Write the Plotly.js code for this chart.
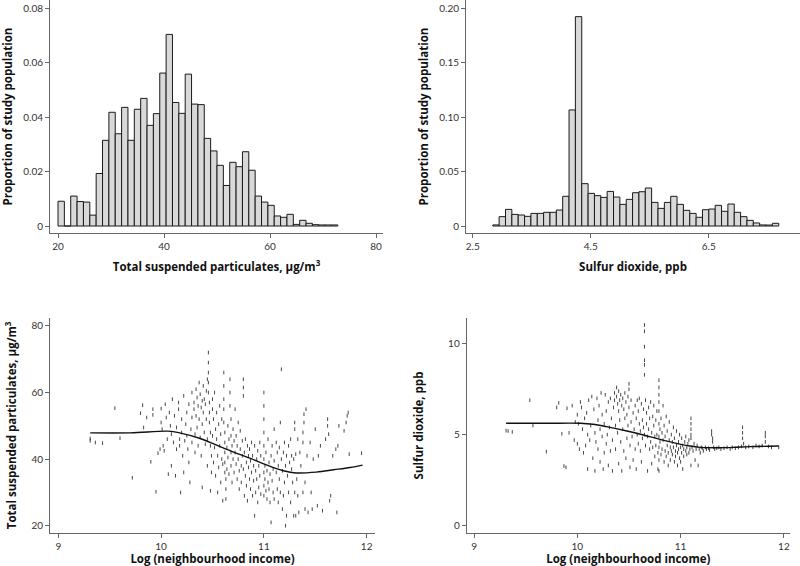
<!DOCTYPE html>
<html>
<head>
<meta charset="utf-8">
<script src="https://cdn.plot.ly/plotly-3.0.1.min.js"></script>
<style>html,body{margin:0;padding:0;background:#fff;}#chart{width:800px;height:566px;}</style>
</head>
<body>
<div id="chart"></div>
<script>
// ---------- Data ----------
// Histogram of total suspended particulates (ug/m3): bins start at 20, width 1.2
const tspBinStart = 20;
const tspBinWidth = 1.2;
const tspProportion = [0.0091, 0, 0.011, 0.009, 0.0088, 0.004, 0.0193, 0.0315, 0.0418, 0.0339,
  0.0436, 0.0315, 0.0429, 0.0469, 0.037, 0.0413, 0.0562, 0.0704, 0.0454, 0.0414,
  0.0558, 0.0448, 0.0446, 0.0322, 0.0276, 0.0223, 0.0149, 0.0234, 0.0218, 0.0273,
  0.0205, 0.011, 0.0088, 0.0076, 0.0037, 0.0032, 0.0043, 0.0006, 0.0021, 0.001,
  0.0005, 0.0004, 0.0004, 0.0004];

// Histogram of sulfur dioxide (ppb): bins start at 2.84, width 0.1077
const so2BinStart = 2.84;
const so2BinWidth = 0.1077;
const so2Proportion = [0.001, 0.0086, 0.0153, 0.0107, 0.0101, 0.0089, 0.0116, 0.0116, 0.0126, 0.0126,
  0.0147, 0.0273, 0.1066, 0.1923, 0.0389, 0.030, 0.0279, 0.0263, 0.0318, 0.0266,
  0.0199, 0.0245, 0.0306, 0.0315, 0.0349, 0.0217, 0.0162, 0.0217, 0.0273, 0.0199,
  0.0144, 0.0116, 0.008, 0.015, 0.0156, 0.019, 0.0135, 0.0202, 0.0126, 0.0086,
  0.0052, 0.0028, 0.001, 0.0009, 0.0025];

const tspTicks = [20, 40, 60, 80];
const tspYTicks = [0, 0.02, 0.04, 0.06, 0.08];
const tspYTickText = ['0', '0.02', '0.04', '0.06', '0.08'];
const so2Ticks = [2.5, 4.5, 6.5];
const so2YTicks = [0, 0.05, 0.10, 0.15, 0.20];
const so2YTickText = ['0', '0.05', '0.10', '0.15', '0.20'];
const incomeTicks = [9, 10, 11, 12];
const tspScatterYTicks = [20, 40, 60, 80];
const so2ScatterYTicks = [0, 5, 10];

// Scatter: log(neighbourhood income) vs TSP  [logIncome, tsp]
const tspPoints = [
[9.31,45.5],[9.31,46.2],[9.36,45],[9.43,44.8],[9.55,55.3],[9.6,46.3],[9.72,34.4],[9.8,53.8],[9.82,56.2],[9.83,49.5],[9.86,52.5],[9.9,39.2],[9.92,53.3],[9.92,55],[9.95,30.2],[9.97,41.8],[9.99,43],
[10.0,51],[10.0,55.2],[10.01,49],[10.02,44],[10.03,42.5],[10.04,56.5],[10.05,52.5],[10.06,46],[10.07,35.5],[10.08,54],[10.09,50],[10.1,47.5],[10.1,38],[10.11,58],[10.12,45],[10.13,53],[10.14,35],[10.15,43],[10.15,49.5],
[10.17,57],[10.17,55],[10.18,46],[10.18,44],[10.19,30],[10.2,52],[10.2,48],[10.21,41],[10.22,36],[10.22,59],[10.23,45.5],[10.24,50.5],[10.25,54],[10.25,47],[10.26,43],[10.27,56.5],[10.27,39],[10.28,33],[10.29,49],[10.3,52.5],[10.3,45],[10.3,60],
[10.32,57],[10.32,55],[10.33,47.5],[10.33,42],[10.34,61],[10.34,53],[10.35,58.5],[10.35,49.5],[10.36,56],[10.36,44],[10.37,63],[10.37,52],[10.38,59.5],[10.38,46.5],[10.39,55.5],[10.39,41],[10.4,57.5],[10.4,50.5],[10.4,31.5],[10.41,62],[10.41,54],[10.42,48],[10.42,58],[10.43,44.5],[10.43,56.5],[10.44,60.5],[10.44,52],[10.45,38],[10.45,46],[10.45,64],
[10.46,72],[10.46,69],[10.46,66],[10.46,63],[10.46,60],[10.47,57],[10.47,54],[10.47,51],[10.48,48],[10.48,44],[10.48,30.5],[10.49,36],[10.49,41],[10.5,58],[10.5,55],[10.5,47],
[10.51,52],[10.51,39],[10.52,43.5],[10.52,60],[10.53,49],[10.53,35],[10.54,46],[10.54,54],[10.55,41],[10.55,30],[10.56,50.5],[10.56,37.5],[10.57,44],[10.57,56],[10.58,47.5],[10.58,33],[10.59,40],[10.59,52],[10.6,38.5],[10.6,27.5],
[10.61,66],[10.61,62],[10.61,58],[10.61,55],[10.61,51],[10.62,48],[10.62,45],[10.62,42],[10.62,39],[10.62,36],[10.63,34],[10.63,31],[10.63,28],[10.64,43.5],[10.64,37],[10.65,50],[10.65,40.5],[10.66,46],[10.66,35.5],[10.67,64],[10.67,60],[10.67,56],[10.68,52],[10.68,47],[10.68,42],[10.68,38],[10.69,44],[10.69,33],[10.7,49],[10.7,40],
[10.71,45.5],[10.71,36],[10.72,42],[10.72,55],[10.73,38.5],[10.73,47],[10.74,34],[10.74,44],[10.75,40],[10.75,51],[10.76,36.5],[10.76,31],[10.77,43],[10.77,48.5],[10.78,38],[10.78,33],[10.79,41],[10.79,45.5],[10.8,64],[10.8,61.5],[10.8,59],[10.8,37],[10.81,29],[10.81,42],[10.82,35],[10.82,46],[10.83,39],[10.83,32],[10.84,44],[10.84,27.5],[10.85,37.5],[10.85,41],
[10.86,34],[10.86,43],[10.87,31],[10.87,39.5],[10.88,36],[10.88,45],[10.89,29],[10.89,41],[10.9,33.5],[10.9,38],[10.91,23],[10.91,44],[10.92,30],[10.92,36.5],[10.93,40],[10.93,34],[10.94,27],[10.94,42.5],[10.95,31.5],[10.95,38],[10.96,35],[10.96,45],[10.97,29.5],[10.97,41],
[11.0,60],[11.0,56],[11.0,52],[11.0,48],[11.0,44],[11.0,40],[11.0,36],[11.0,32],[11.0,29],[11.01,34],[11.01,38],[11.02,30.5],[11.02,42],[11.03,28],[11.03,36.5],[11.04,33],[11.04,46],[11.05,31],[11.05,39],[11.06,35.5],[11.06,27],[11.07,41],[11.07,21],[11.08,33.5],[11.08,44],[11.09,30],[11.09,37],[11.1,39.5],[11.1,28],[11.1,49],
[11.12,36],[11.12,45],[11.13,31],[11.13,42],[11.14,27],[11.14,38],[11.15,43.5],[11.15,34],[11.16,51],[11.16,30],[11.17,67],[11.17,40],[11.18,36.5],[11.18,25],[11.19,42],[11.19,29],[11.2,45],[11.2,33],[11.21,20],[11.21,38],[11.22,41],[11.22,23],[11.23,35],[11.24,44],[11.24,30],[11.25,39],[11.26,27],[11.26,46],[11.27,41],[11.27,37],[11.28,33],[11.29,23],[11.29,40],[11.3,30],[11.3,51],[11.3,49],
[11.31,41.5],[11.31,23],[11.32,34],[11.33,29],[11.33,46],[11.34,24],[11.35,42],[11.36,38],[11.38,30],[11.38,45],[11.38,48],[11.39,51],[11.39,53.5],[11.4,25],[11.4,33],[11.41,55],[11.42,41],[11.43,24],[11.45,45],[11.46,30],[11.47,25],[11.48,40],[11.5,49],
[11.52,26],[11.53,41],[11.55,44],[11.57,24.5],[11.6,46],[11.62,50],[11.62,52],[11.63,47.5],[11.64,27.5],[11.65,29],[11.67,41],[11.7,43],[11.71,24],[11.72,44],[11.73,50],[11.78,48.5],[11.8,51],[11.81,53],[11.82,54],[11.83,41.5],[11.95,41.8]
];

// Smoothed curve for TSP
const tspSmoothX = [9.31, 9.7, 10.07, 10.18, 10.38, 10.54, 10.70, 10.87, 11.03, 11.19, 11.29, 11.51, 11.68, 11.84, 11.96];
const tspSmoothY = [47.9, 47.9, 48.4, 47.9, 46.2, 44.2, 42.2, 40.2, 38.2, 36.5, 35.9, 36.1, 36.8, 37.5, 38.2];

// Scatter: log(neighbourhood income) vs SO2  [logIncome, so2]
const so2Points = [
[9.31,5.22],[9.33,5.2],[9.37,5.15],[9.54,6.9],[9.57,5.5],[9.7,4.06],[9.8,6.5],[9.82,6.75],[9.85,5.05],[9.87,3.27],[9.89,3.2],[9.9,6.45],[9.92,5.1],[9.95,6.6],[9.97,4.7],[9.98,5.7],
[10.0,6.1],[10.0,4.5],[10.01,5.6],[10.02,4.2],[10.03,6.8],[10.04,6.5],[10.05,5.3],[10.06,4.0],[10.07,5.9],[10.08,4.4],[10.09,6.2],[10.1,5.0],[10.1,3.1],[10.11,6.9],[10.12,4.7],[10.13,5.5],[10.14,7.1],[10.15,3.7],
[10.16,6.4],[10.17,5.1],[10.17,3.0],[10.18,4.6],[10.19,7.0],[10.2,5.8],[10.2,4.2],[10.21,6.6],[10.22,3.5],[10.22,5.3],[10.23,7.3],[10.24,4.9],[10.24,6.1],[10.25,3.1],[10.26,5.6],[10.26,4.0],[10.27,7.2],[10.28,6.3],[10.28,4.5],[10.29,5.0],[10.3,3.3],[10.3,6.8],[10.31,5.4],[10.32,4.1],[10.32,7.0],[10.33,5.9],[10.34,3.0],[10.34,4.7],[10.35,6.5],
[10.36,7.3],[10.36,6.9],[10.37,5.5],[10.37,4.2],[10.38,7.6],[10.38,7.1],[10.39,6.7],[10.39,5.1],[10.4,7.4],[10.4,6.3],[10.4,3.4],[10.41,6.9],[10.41,5.8],[10.42,7.2],[10.42,4.6],[10.43,6.6],[10.43,3.0],[10.44,7.0],[10.44,5.3],[10.45,6.4],[10.45,4.1],[10.46,7.3],[10.46,5.9],[10.47,6.8],[10.47,3.7],[10.48,6.1],[10.48,4.8],[10.49,7.1],[10.49,5.5],[10.5,7.8],[10.5,7.5],[10.5,6.5],[10.51,4.4],[10.51,3.2],[10.52,5.7],[10.52,6.9],[10.53,4.9],[10.54,6.2],[10.54,3.6],[10.55,5.3],
[10.56,6.6],[10.56,4.2],[10.57,5.9],[10.57,3.1],[10.58,6.9],[10.58,5.0],[10.59,4.5],[10.59,6.3],[10.6,5.6],[10.6,7.0],[10.61,4.1],[10.61,5.2],[10.62,6.7],[10.62,3.5],[10.63,5.8],[10.63,4.8],[10.64,6.4],[10.64,5.4],[10.65,11.05],[10.65,10.7],[10.65,9.85],[10.65,9.1],[10.65,8.85],[10.65,8.3],[10.65,5.0],[10.66,6.9],[10.66,4.4],[10.67,6.2],[10.67,5.6],[10.68,4.9],[10.68,3.0],[10.69,6.5],[10.69,5.3],[10.7,4.2],[10.7,5.9],[10.71,6.8],[10.71,4.6],[10.72,5.1],[10.72,3.4],[10.73,6.0],[10.73,4.3],[10.74,5.5],[10.74,6.6],[10.75,4.9],[10.75,3.8],
[10.76,5.8],[10.76,4.4],[10.77,6.3],[10.77,5.0],[10.78,4.0],[10.78,3.1],[10.79,8.0],[10.79,7.6],[10.79,7.2],[10.79,6.8],[10.79,6.3],[10.79,5.6],[10.79,4.9],[10.79,4.3],[10.79,3.6],[10.79,3.0],[10.8,5.3],[10.8,4.6],[10.81,5.9],[10.81,3.9],[10.82,4.2],[10.82,5.1],[10.83,6.6],[10.83,4.7],[10.84,3.5],[10.84,5.5],[10.85,4.1],[10.85,4.9],[10.86,6.0],[10.86,3.8],[10.87,4.4],[10.87,5.2],[10.88,4.0],[10.88,3.3],[10.89,4.7],[10.89,5.7],[10.9,4.3],[10.9,3.6],
[10.91,5.0],[10.91,4.1],[10.92,4.6],[10.92,3.9],[10.93,5.4],[10.93,4.3],[10.94,3.5],[10.94,4.8],[10.95,4.1],[10.95,3.8],[10.96,5.2],[10.96,4.4],[10.97,3.3],[10.97,4.0],[10.98,4.6],[10.98,4.2],[10.99,3.7],[10.99,5.0],[11.0,4.3],[11.0,3.5],[11.01,4.8],[11.01,4.0],[11.02,3.1],[11.02,4.4],[11.03,4.2],[11.03,3.8],[11.04,4.6],[11.05,4.1],[11.05,4.9],[11.06,3.9],[11.06,4.3],[11.07,4.5],[11.08,4.0],[11.08,4.7],[11.09,4.2],[11.1,5.9],[11.1,5.6],[11.1,5.3],[11.1,5.0],[11.1,4.8],[11.1,3.3],
[11.11,4.3],[11.12,4.1],[11.13,4.5],[11.14,3.6],[11.15,4.2],[11.16,4.4],[11.17,3.3],[11.18,4.2],[11.19,4.0],[11.2,4.3],[11.21,4.25],[11.22,4.1],[11.24,4.3],[11.25,4.2],[11.27,4.25],[11.28,4.15],[11.3,5.2],[11.3,5.0],[11.31,4.8],[11.31,4.6],[11.32,4.3],[11.33,4.2],[11.35,4.25],[11.37,4.3],[11.39,4.2],
[11.42,4.25],[11.45,4.3],[11.48,4.2],[11.5,4.3],[11.53,4.25],[11.56,4.3],[11.59,4.35],[11.6,5.4],[11.6,5.1],[11.6,4.8],[11.61,4.5],[11.63,4.3],[11.66,4.35],[11.7,4.3],[11.73,4.4],[11.76,4.35],[11.79,4.4],[11.82,5.1],[11.82,4.9],[11.82,4.6],[11.85,4.35],[11.88,4.3],[11.95,4.3]
];

// Smoothed curve for SO2
const so2SmoothX = [9.31, 9.7, 10.03, 10.15, 10.28, 10.48, 10.64, 10.80, 10.96, 11.09, 11.19, 11.35, 11.51, 11.67, 11.95];
const so2SmoothY = [5.625, 5.625, 5.625, 5.57, 5.44, 5.2, 4.98, 4.74, 4.52, 4.37, 4.30, 4.28, 4.30, 4.34, 4.37];

// ---------- Build ----------
const tspCenters = tspProportion.map((_, i) => tspBinStart + tspBinWidth * (i + 0.5));
const so2Centers = so2Proportion.map((_, i) => so2BinStart + so2BinWidth * (i + 0.5));

const barMarker = {
  color: '#d9d9d9',
  line: {color: '#1a1a1a', width: 1}
};
const dotMarker = {symbol: 'line-ns', size: 2.6, line: {width: 1, color: 'rgba(25,25,25,0.8)'}};

const traces = [
  {type: 'bar', x: tspCenters, y: tspProportion, width: tspBinWidth, marker: barMarker, xaxis: 'x', yaxis: 'y', hoverinfo: 'x+y'},
  {type: 'bar', x: so2Centers, y: so2Proportion, width: so2BinWidth, marker: barMarker, xaxis: 'x2', yaxis: 'y2', hoverinfo: 'x+y'},
  {type: 'scatter', mode: 'markers', x: tspPoints.map(p => p[0]), y: tspPoints.map(p => p[1]), marker: dotMarker, xaxis: 'x3', yaxis: 'y3'},
  {type: 'scatter', mode: 'lines', x: tspSmoothX, y: tspSmoothY, line: {color: '#111', width: 1.4, shape: 'spline'}, xaxis: 'x3', yaxis: 'y3'},
  {type: 'scatter', mode: 'markers', x: so2Points.map(p => p[0]), y: so2Points.map(p => p[1]), marker: dotMarker, xaxis: 'x4', yaxis: 'y4'},
  {type: 'scatter', mode: 'lines', x: so2SmoothX, y: so2SmoothY, line: {color: '#111', width: 1.4, shape: 'spline'}, xaxis: 'x4', yaxis: 'y4'}
];

const tickFont = {family: 'Lato, "Open Sans", sans-serif', size: 10, color: '#333'};
const titleFont = {family: '"Open Sans", Lato, sans-serif', size: 11.5, color: '#111', weight: 700};
function axis(extra) {
  return Object.assign({
    showgrid: false, zeroline: false, showline: true, linecolor: '#666', linewidth: 1,
    ticks: 'outside', ticklen: 4, tickcolor: '#666', tickwidth: 1,
    tickfont: tickFont, tickmode: 'array', fixedrange: true
  }, extra);
}

const layout = {
  width: 800, height: 566,
  margin: {l: 0, r: 0, t: 0, b: 0},
  paper_bgcolor: '#fff', plot_bgcolor: '#fff',
  showlegend: false, bargap: 0,
  xaxis: axis({domain: [0.0625, 0.47875], range: [18.49, 81.32], tickvals: tspTicks, anchor: 'y',
    title: {text: 'Total suspended particulates, μg/m<sup>3</sup>', font: titleFont, standoff: 11}}),
  yaxis: axis({domain: [0.5883, 1], range: [-0.00257, 0.08305], tickvals: tspYTicks, ticktext: tspYTickText, anchor: 'x',
    title: {text: 'Proportion of study population', font: titleFont, standoff: 8}}),
  xaxis2: axis({domain: [0.5825, 1], range: [2.386, 8.047], tickvals: so2Ticks, ticktext: so2Ticks.map(v => v.toFixed(1)), anchor: 'y2',
    title: {text: 'Sulfur dioxide, ppb', font: titleFont, standoff: 11}}),
  yaxis2: axis({domain: [0.5883, 1], range: [-0.00643, 0.2076], tickvals: so2YTicks, ticktext: so2YTickText, anchor: 'x2',
    title: {text: 'Proportion of study population', font: titleFont, standoff: 8}}),
  xaxis3: axis({domain: [0.0625, 0.46875], range: [8.919, 12.081], tickvals: incomeTicks, anchor: 'y3',
    title: {text: 'Log (neighbourhood income)', font: titleFont, standoff: 6}}),
  yaxis3: axis({domain: [0.0583, 0.4382], range: [17.81, 82.4], tickvals: tspScatterYTicks, anchor: 'x3',
    title: {text: 'Total suspended particulates, μg/m<sup>3</sup>', font: titleFont, standoff: 12}}),
  xaxis4: axis({domain: [0.5834, 0.9875], range: [8.929, 12.059], tickvals: incomeTicks, anchor: 'y4',
    title: {text: 'Log (neighbourhood income)', font: titleFont, standoff: 6}}),
  yaxis4: axis({domain: [0.0583, 0.4382], range: [-0.425, 11.434], tickvals: so2ScatterYTicks, anchor: 'x4',
    title: {text: 'Sulfur dioxide, ppb', font: titleFont, standoff: 22}})
};

Plotly.newPlot('chart', traces, layout, {staticPlot: true, displayModeBar: false});
</script>
</body>
</html>
